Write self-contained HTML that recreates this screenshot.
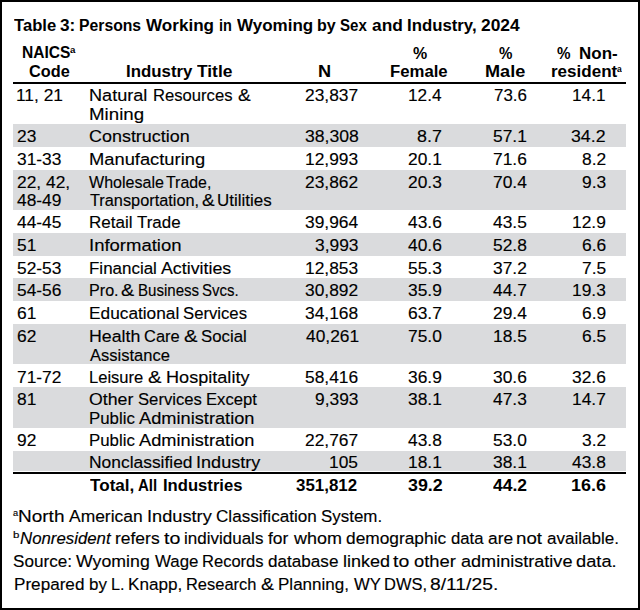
<!DOCTYPE html>
<html><head><meta charset="utf-8"><title>Table 3</title>
<style>
html,body{margin:0;padding:0;background:#fff;}
#frame{position:relative;width:640px;height:610px;overflow:hidden;background:#fff;color:#000;}
#frame div{position:absolute;transform-origin:0 0;font-family:"Liberation Sans", sans-serif;white-space:pre;font-size:17.4px;line-height:20.88px;font-weight:400;font-style:normal;}
#frame .b{font-weight:700;}
#frame .i{font-style:italic;}
#frame .band{left:13px;width:613.3px;background:#dadbdd;}
#frame .rule{left:13px;width:613.3px;background:#000;}
#frame .bd{background:#000;}
#frame .r{-webkit-text-stroke:0.15px #000;}
</style></head><body>
<div id="frame">
<div class="band" style="top:123.85px;height:23.05px"></div><div class="band" style="top:169.60px;height:40.10px"></div><div class="band" style="top:233.00px;height:22.50px"></div><div class="band" style="top:278.40px;height:22.30px"></div><div class="band" style="top:324.10px;height:40.10px"></div><div class="band" style="top:387.30px;height:40.55px"></div><div class="band" style="top:451.10px;height:19.70px"></div>
<div class="rule" style="top:82px;height:2px"></div>
<div class="rule" style="top:472.2px;height:2px"></div>
<div class="b" style="left:13.65px;top:15.10px;transform:scaleX(0.9551)">Table</div>
<div class="b" style="left:60.29px;top:15.10px;transform:scaleX(0.9886)">3:</div>
<div class="b" style="left:79.39px;top:15.10px;transform:scaleX(0.9052)">Persons</div>
<div class="b" style="left:146.08px;top:15.10px;transform:scaleX(0.9820)">Working</div>
<div class="b" style="left:218.79px;top:15.10px;transform:scaleX(0.8317)">in</div>
<div class="b" style="left:236.78px;top:15.10px;transform:scaleX(0.9777)">Wyoming</div>
<div class="b" style="left:317.19px;top:15.10px;transform:scaleX(0.9241)">by</div>
<div class="b" style="left:340.21px;top:15.10px;transform:scaleX(0.8662)">Sex</div>
<div class="b" style="left:372.12px;top:15.10px;transform:scaleX(0.9975)">and</div>
<div class="b" style="left:406.97px;top:15.10px;transform:scaleX(0.9650)">Industry,</div>
<div class="b" style="left:480.87px;top:15.10px;transform:scaleX(0.9997)">2024</div>
<div class="b" style="left:22.29px;top:42.10px;transform:scaleX(0.8945)">NAICS</div>
<div class="b" style="left:70.41px;top:44.60px;font-size:8.8px;line-height:10.56px;transform:scaleX(1.1028)">a</div>
<div class="b" style="left:29.09px;top:60.90px;transform:scaleX(0.9366)">Code</div>
<div class="b" style="left:126.07px;top:61.40px;transform:scaleX(0.9686)">Industry</div>
<div class="b" style="left:196.53px;top:61.40px;transform:scaleX(0.9987)">Title</div>
<div class="b" style="left:318.21px;top:61.30px;transform:scaleX(1.0439)">N</div>
<div class="b" style="left:413.28px;top:42.50px;transform:scaleX(0.9194)">%</div>
<div class="b" style="left:390.32px;top:61.30px;transform:scaleX(0.9623)">Female</div>
<div class="b" style="left:498.85px;top:42.50px;transform:scaleX(0.8673)">%</div>
<div class="b" style="left:485.31px;top:61.30px;transform:scaleX(1.0407)">Male</div>
<div class="b" style="left:556.75px;top:42.60px;transform:scaleX(0.8743)">%</div>
<div class="b" style="left:579.17px;top:42.60px;transform:scaleX(0.9762)">Non-</div>
<div class="b" style="left:551.18px;top:61.30px;transform:scaleX(0.9787)">resident</div>
<div class="b" style="left:617.25px;top:64.10px;font-size:8.8px;line-height:10.56px;transform:scaleX(0.9678)">a</div>
<div class="r" style="left:16.42px;top:85.10px;transform:scaleX(0.9988)">11, 21</div>
<div class="r" style="left:89.09px;top:85.10px;transform:scaleX(1.0413)">Natural</div>
<div class="r" style="left:152.89px;top:85.10px;transform:scaleX(0.9563)">Resources</div>
<div class="r" style="left:237.77px;top:85.10px;transform:scaleX(1.0969)">&amp;</div>
<div class="r" style="left:89.03px;top:104.10px;transform:scaleX(1.0756)">Mining</div>
<div class="r" style="left:305.11px;top:85.10px;transform:scaleX(0.9988)">23,837</div>
<div class="r" style="left:408.29px;top:85.10px;transform:scaleX(0.9892)">12.4</div>
<div class="r" style="left:494.00px;top:85.10px;transform:scaleX(0.9713)">73.6</div>
<div class="r" style="left:572.22px;top:85.10px;transform:scaleX(0.9898)">14.1</div>
<div class="r" style="left:16.72px;top:126.25px;transform:scaleX(0.9988)">23</div>
<div class="r" style="left:88.58px;top:126.25px;transform:scaleX(1.0317)">Construction</div>
<div class="r" style="left:304.59px;top:126.25px;transform:scaleX(1.0113)">38,308</div>
<div class="r" style="left:417.32px;top:126.25px;transform:scaleX(1.0275)">8.7</div>
<div class="r" style="left:493.29px;top:126.25px;transform:scaleX(0.9988)">57.1</div>
<div class="r" style="left:571.24px;top:126.25px;transform:scaleX(1.0195)">34.2</div>
<div class="r" style="left:16.75px;top:148.70px;transform:scaleX(0.9988)">31-33</div>
<div class="r" style="left:88.97px;top:148.70px;transform:scaleX(1.0537)">Manufacturing</div>
<div class="r" style="left:305.05px;top:148.70px;transform:scaleX(0.9988)">12,993</div>
<div class="r" style="left:408.29px;top:148.70px;transform:scaleX(0.9988)">20.1</div>
<div class="r" style="left:493.00px;top:148.70px;transform:scaleX(0.9988)">71.6</div>
<div class="r" style="left:581.61px;top:148.70px;transform:scaleX(0.9988)">8.2</div>
<div class="r" style="left:16.72px;top:171.50px;transform:scaleX(0.9988)">22, 42,</div>
<div class="r" style="left:17.35px;top:189.90px;transform:scaleX(0.9988)">48-49</div>
<div class="r" style="left:89.21px;top:171.50px;transform:scaleX(0.9228)">Wholesale</div>
<div class="r" style="left:166.39px;top:171.50px;transform:scaleX(0.9139)">Trade,</div>
<div class="r" style="left:89.68px;top:189.90px;transform:scaleX(0.9375)">Transportation,</div>
<div class="r" style="left:202.18px;top:189.90px;transform:scaleX(1.0872)">&amp;</div>
<div class="r" style="left:217.24px;top:189.90px;transform:scaleX(0.9749)">Utilities</div>
<div class="r" style="left:305.11px;top:171.50px;transform:scaleX(0.9988)">23,862</div>
<div class="r" style="left:408.00px;top:171.50px;transform:scaleX(0.9988)">20.3</div>
<div class="r" style="left:492.77px;top:171.50px;transform:scaleX(0.9988)">70.4</div>
<div class="r" style="left:581.55px;top:171.50px;transform:scaleX(0.9988)">9.3</div>
<div class="r" style="left:17.35px;top:212.00px;transform:scaleX(0.9988)">44-45</div>
<div class="r" style="left:89.06px;top:212.00px;transform:scaleX(0.9796)">Retail</div>
<div class="r" style="left:137.28px;top:212.00px;transform:scaleX(0.9719)">Trade</div>
<div class="r" style="left:304.80px;top:212.00px;transform:scaleX(0.9988)">39,964</div>
<div class="r" style="left:408.00px;top:212.00px;transform:scaleX(0.9988)">43.6</div>
<div class="r" style="left:492.98px;top:212.00px;transform:scaleX(0.9988)">43.5</div>
<div class="r" style="left:571.78px;top:212.00px;transform:scaleX(0.9988)">12.9</div>
<div class="r" style="left:16.62px;top:234.60px;transform:scaleX(0.9988)">51</div>
<div class="r" style="left:88.79px;top:234.60px;transform:scaleX(1.0634)">Information</div>
<div class="r" style="left:314.83px;top:234.60px;transform:scaleX(0.9988)">3,993</div>
<div class="r" style="left:408.00px;top:234.60px;transform:scaleX(0.9988)">40.6</div>
<div class="r" style="left:493.00px;top:234.60px;transform:scaleX(0.9988)">52.8</div>
<div class="r" style="left:581.55px;top:234.60px;transform:scaleX(0.9988)">6.6</div>
<div class="r" style="left:16.62px;top:257.70px;transform:scaleX(0.9988)">52-53</div>
<div class="r" style="left:89.16px;top:257.70px;transform:scaleX(0.9751)">Financial</div>
<div class="r" style="left:161.48px;top:257.70px;transform:scaleX(1.0235)">Activities</div>
<div class="r" style="left:305.05px;top:257.70px;transform:scaleX(0.9988)">12,853</div>
<div class="r" style="left:408.00px;top:257.70px;transform:scaleX(0.9988)">55.3</div>
<div class="r" style="left:493.32px;top:257.70px;transform:scaleX(0.9988)">37.2</div>
<div class="r" style="left:581.52px;top:257.70px;transform:scaleX(0.9988)">7.5</div>
<div class="r" style="left:16.62px;top:280.00px;transform:scaleX(0.9988)">54-56</div>
<div class="r" style="left:88.92px;top:280.00px;transform:scaleX(0.9275)">Pro.</div>
<div class="r" style="left:121.05px;top:280.00px;transform:scaleX(1.1357)">&amp;</div>
<div class="r" style="left:137.80px;top:280.00px;transform:scaleX(0.8663)">Business</div>
<div class="r" style="left:202.19px;top:280.00px;transform:scaleX(0.8616)">Svcs.</div>
<div class="r" style="left:305.11px;top:280.00px;transform:scaleX(0.9988)">30,892</div>
<div class="r" style="left:408.03px;top:280.00px;transform:scaleX(0.9988)">35.9</div>
<div class="r" style="left:493.32px;top:280.00px;transform:scaleX(0.9988)">44.7</div>
<div class="r" style="left:571.75px;top:280.00px;transform:scaleX(0.9988)">19.3</div>
<div class="r" style="left:16.95px;top:303.00px;transform:scaleX(0.9988)">61</div>
<div class="r" style="left:88.85px;top:303.00px;transform:scaleX(0.9934)">Educational</div>
<div class="r" style="left:183.05px;top:303.00px;transform:scaleX(0.9598)">Services</div>
<div class="r" style="left:305.03px;top:303.00px;transform:scaleX(0.9988)">34,168</div>
<div class="r" style="left:408.32px;top:303.00px;transform:scaleX(0.9988)">63.7</div>
<div class="r" style="left:492.77px;top:303.00px;transform:scaleX(0.9988)">29.4</div>
<div class="r" style="left:581.59px;top:303.00px;transform:scaleX(0.9988)">6.9</div>
<div class="r" style="left:16.95px;top:325.60px;transform:scaleX(0.9988)">62</div>
<div class="r" style="left:88.80px;top:325.60px;transform:scaleX(1.0205)">Health</div>
<div class="r" style="left:144.17px;top:325.60px;transform:scaleX(0.9470)">Care</div>
<div class="r" style="left:183.94px;top:325.60px;transform:scaleX(1.1648)">&amp;</div>
<div class="r" style="left:200.85px;top:325.60px;transform:scaleX(0.9645)">Social</div>
<div class="r" style="left:90.21px;top:344.70px;transform:scaleX(0.9500)">Assistance</div>
<div class="r" style="left:305.51px;top:325.60px;transform:scaleX(0.9988)">40,261</div>
<div class="r" style="left:407.92px;top:325.60px;transform:scaleX(0.9988)">75.0</div>
<div class="r" style="left:492.98px;top:325.60px;transform:scaleX(0.9988)">18.5</div>
<div class="r" style="left:581.52px;top:325.60px;transform:scaleX(0.9988)">6.5</div>
<div class="r" style="left:16.72px;top:366.90px;transform:scaleX(0.9988)">71-72</div>
<div class="r" style="left:89.19px;top:366.90px;transform:scaleX(0.9509)">Leisure</div>
<div class="r" style="left:148.24px;top:366.90px;transform:scaleX(1.1648)">&amp;</div>
<div class="r" style="left:165.99px;top:366.90px;transform:scaleX(1.0406)">Hospitality</div>
<div class="r" style="left:305.05px;top:366.90px;transform:scaleX(0.9988)">58,416</div>
<div class="r" style="left:408.03px;top:366.90px;transform:scaleX(0.9988)">36.9</div>
<div class="r" style="left:493.00px;top:366.90px;transform:scaleX(0.9988)">30.6</div>
<div class="r" style="left:571.75px;top:366.90px;transform:scaleX(0.9988)">32.6</div>
<div class="r" style="left:17.04px;top:388.90px;transform:scaleX(0.9988)">81</div>
<div class="r" style="left:89.07px;top:388.90px;transform:scaleX(1.0196)">Other</div>
<div class="r" style="left:137.95px;top:388.90px;transform:scaleX(0.9582)">Services</div>
<div class="r" style="left:206.29px;top:388.90px;transform:scaleX(0.9576)">Except</div>
<div class="r" style="left:89.08px;top:407.70px;transform:scaleX(0.9676)">Public</div>
<div class="r" style="left:139.38px;top:407.70px;transform:scaleX(1.0480)">Administration</div>
<div class="r" style="left:314.83px;top:388.90px;transform:scaleX(0.9988)">9,393</div>
<div class="r" style="left:408.29px;top:388.90px;transform:scaleX(0.9988)">38.1</div>
<div class="r" style="left:493.00px;top:388.90px;transform:scaleX(0.9988)">47.3</div>
<div class="r" style="left:572.07px;top:388.90px;transform:scaleX(0.9988)">14.7</div>
<div class="r" style="left:17.01px;top:430.00px;transform:scaleX(0.9988)">92</div>
<div class="r" style="left:89.08px;top:430.00px;transform:scaleX(0.9676)">Public</div>
<div class="r" style="left:139.38px;top:430.00px;transform:scaleX(1.0480)">Administration</div>
<div class="r" style="left:305.11px;top:430.00px;transform:scaleX(0.9988)">22,767</div>
<div class="r" style="left:408.00px;top:430.00px;transform:scaleX(0.9988)">43.8</div>
<div class="r" style="left:492.92px;top:430.00px;transform:scaleX(0.9988)">53.0</div>
<div class="r" style="left:581.61px;top:430.00px;transform:scaleX(0.9988)">3.2</div>
<div class="r" style="left:88.63px;top:452.00px;transform:scaleX(1.0010)">Nonclassified</div>
<div class="r" style="left:195.72px;top:452.00px;transform:scaleX(1.0396)">Industry</div>
<div class="r" style="left:329.23px;top:452.00px;transform:scaleX(0.9988)">105</div>
<div class="r" style="left:408.29px;top:452.00px;transform:scaleX(0.9988)">18.1</div>
<div class="r" style="left:493.29px;top:452.00px;transform:scaleX(0.9988)">38.1</div>
<div class="r" style="left:571.75px;top:452.00px;transform:scaleX(0.9988)">43.8</div>
<div class="b" style="left:89.65px;top:474.80px;transform:scaleX(0.9835)">Total,</div>
<div class="b" style="left:137.62px;top:474.80px;transform:scaleX(0.8642)">All</div>
<div class="b" style="left:162.97px;top:474.80px;transform:scaleX(0.9565)">Industries</div>
<div class="b" style="left:295.97px;top:474.80px;transform:scaleX(0.9720)">351,812</div>
<div class="b" style="left:407.79px;top:474.80px;transform:scaleX(1.0267)">39.2</div>
<div class="b" style="left:493.14px;top:474.80px;transform:scaleX(1.0058)">44.2</div>
<div class="b" style="left:571.41px;top:474.80px;transform:scaleX(1.0321)">16.6</div>
<div class="r" style="left:12.89px;top:507.50px;font-size:8.5px;line-height:10.2px;transform:scaleX(1.0750)">a</div>
<div class="r" style="left:18.32px;top:505.60px;transform:scaleX(1.0920)">North</div>
<div class="r" style="left:68.78px;top:505.60px;transform:scaleX(1.0031)">American</div>
<div class="r" style="left:147.01px;top:505.60px;transform:scaleX(1.0463)">Industry</div>
<div class="r" style="left:216.07px;top:505.60px;transform:scaleX(0.9837)">Classification</div>
<div class="r" style="left:320.89px;top:505.60px;transform:scaleX(0.9727)">System.</div>
<div class="r" style="left:13.04px;top:529.90px;font-size:9px;line-height:10.8px;transform:scaleX(1.2712)">b</div>
<div class="r i" style="left:19.97px;top:528.20px;transform:scaleX(0.9664)">Nonresident</div>
<div class="r" style="left:114.75px;top:528.20px;transform:scaleX(1.0035)">refers</div>
<div class="r" style="left:163.74px;top:528.20px;transform:scaleX(1.1269)">to</div>
<div class="r" style="left:183.57px;top:528.20px;transform:scaleX(0.9777)">individuals</div>
<div class="r" style="left:268.48px;top:528.20px;transform:scaleX(1.0026)">for</div>
<div class="r" style="left:293.89px;top:528.20px;transform:scaleX(1.0325)">whom</div>
<div class="r" style="left:346.45px;top:528.20px;transform:scaleX(0.9961)">demographic</div>
<div class="r" style="left:450.77px;top:528.20px;transform:scaleX(0.9610)">data</div>
<div class="r" style="left:488.14px;top:528.20px;transform:scaleX(0.9954)">are</div>
<div class="r" style="left:516.47px;top:528.20px;transform:scaleX(1.0756)">not</div>
<div class="r" style="left:546.55px;top:528.20px;transform:scaleX(0.9808)">available.</div>
<div class="r" style="left:12.78px;top:551.00px;transform:scaleX(0.9835)">Source:</div>
<div class="r" style="left:75.98px;top:551.00px;transform:scaleX(1.0200)">Wyoming</div>
<div class="r" style="left:154.61px;top:551.00px;transform:scaleX(0.9685)">Wage</div>
<div class="r" style="left:201.99px;top:551.00px;transform:scaleX(0.9510)">Records</div>
<div class="r" style="left:268.35px;top:551.00px;transform:scaleX(0.9841)">database</div>
<div class="r" style="left:342.81px;top:551.00px;transform:scaleX(1.0362)">linked</div>
<div class="r" style="left:393.44px;top:551.00px;transform:scaleX(1.1194)">to</div>
<div class="r" style="left:414.03px;top:551.00px;transform:scaleX(1.0562)">other</div>
<div class="r" style="left:461.23px;top:551.00px;transform:scaleX(1.0387)">administrative</div>
<div class="r" style="left:576.43px;top:551.00px;transform:scaleX(1.0502)">data.</div>
<div class="r" style="left:13.55px;top:573.50px;transform:scaleX(0.9841)">Prepared</div>
<div class="r" style="left:88.87px;top:573.50px;transform:scaleX(0.9758)">by</div>
<div class="r" style="left:110.92px;top:573.50px;transform:scaleX(0.9335)">L.</div>
<div class="r" style="left:128.45px;top:573.50px;transform:scaleX(0.9861)">Knapp,</div>
<div class="r" style="left:186.21px;top:573.50px;transform:scaleX(0.9454)">Research</div>
<div class="r" style="left:261.17px;top:573.50px;transform:scaleX(1.1163)">&amp;</div>
<div class="r" style="left:278.46px;top:573.50px;transform:scaleX(0.9789)">Planning,</div>
<div class="r" style="left:353.81px;top:573.50px;transform:scaleX(0.9600)">WY</div>
<div class="r" style="left:383.69px;top:573.50px;transform:scaleX(0.9476)">DWS,</div>
<div class="r" style="left:430.42px;top:573.50px;transform:scaleX(1.1088)">8/11/25.</div>

<div class="bd" style="left:0;top:0;width:640px;height:2px"></div>
<div class="bd" style="left:0;top:608px;width:640px;height:2px"></div>
<div class="bd" style="left:0;top:0;width:2px;height:610px"></div>
<div class="bd" style="left:638px;top:0;width:2px;height:610px"></div>
</div>
</body></html>
